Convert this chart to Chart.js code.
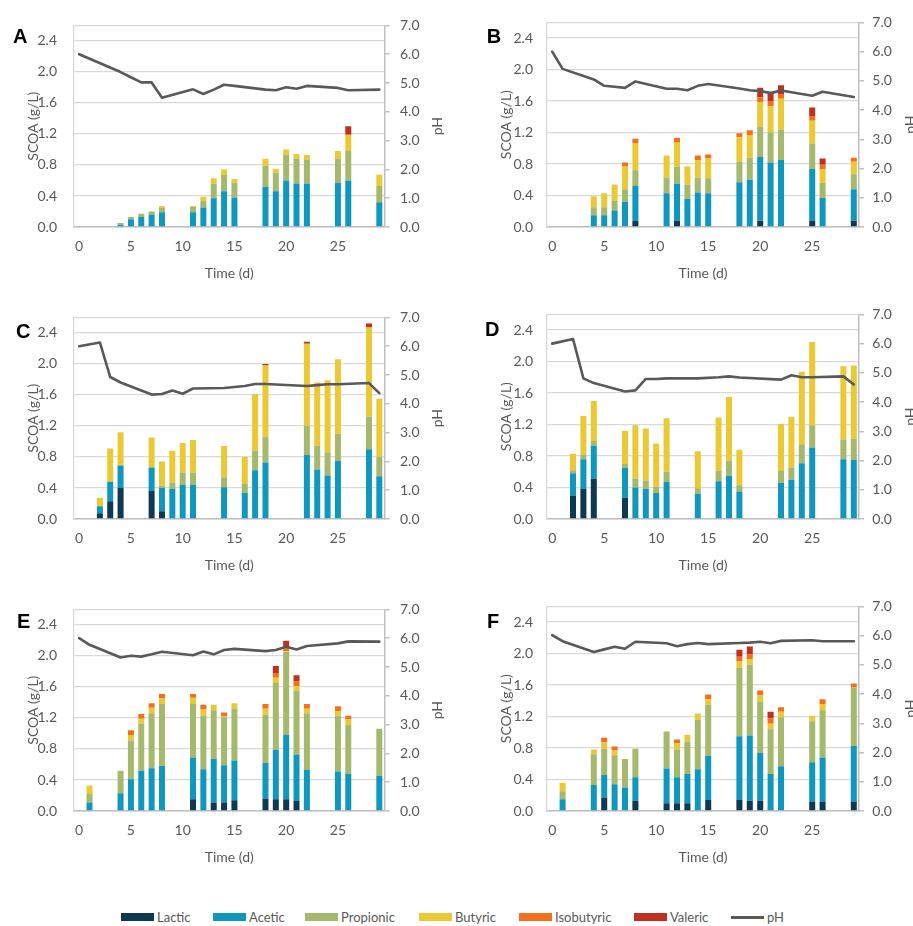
<!DOCTYPE html>
<html>
<head>
<meta charset="utf-8">
<script src="https://cdn.jsdelivr.net/npm/chart.js@4.4.1/dist/chart.umd.min.js"></script>
<style>
html,body{margin:0;padding:0;background:#fff;overflow:hidden;width:913px;height:926px;}
.panel{position:absolute;}
.panel canvas{display:block;}
.lg{position:absolute;top:909px;height:16px;display:flex;align-items:center;font-family:Lato,sans-serif;font-size:13px;color:#595959;white-space:nowrap;}
.sw{width:33px;height:8px;margin-right:3px;}
.ln{width:33px;height:3px;margin-right:3px;background:#595959;}
</style>
</head>
<body>
<div class="panel" style="left:0;top:0"><canvas id="cA" width="455" height="292"></canvas></div>
<div class="panel" style="left:455px;top:0"><canvas id="cB" width="470" height="292"></canvas></div>
<div class="panel" style="left:0;top:292px"><canvas id="cC" width="455" height="292"></canvas></div>
<div class="panel" style="left:455px;top:292px"><canvas id="cD" width="470" height="292"></canvas></div>
<div class="panel" style="left:0;top:584px"><canvas id="cE" width="455" height="292"></canvas></div>
<div class="panel" style="left:455px;top:584px"><canvas id="cF" width="470" height="292"></canvas></div>
<div id="legend"></div>
<script>
// ---------- categories & tick labels ----------
const days = ['0','1','2','3','4','5','6','7','8','9','10','11','12','13','14','15','16','17','18','19','20','21','22','23','24','25','26','27','28','29'];
const xTickLabels = ['0','5','10','15','20','25'];
const scoaTicks = [0, 0.4, 0.8, 1.2, 1.6, 2.0, 2.4, 2.6];
const phTicks = [0, 1, 2, 3, 4, 5, 6, 7];
const seriesNames = ['Lactic','Acetic','Propionic','Butyric','Isobutyric','Valeric'];
const panelLetters = ['A','B','C','D','E','F'];

// ---------- Panel A ----------
const daysA = [4,5,6,7,8,11,12,13,14,15,18,19,20,21,22,25,26,29];
const lacticA = [0,0,0,0,0,0,0,0,0,0,0,0,0,0,0,0,0,0];
const aceticA = [0.03,0.10,0.13,0.16,0.19,0.19,0.25,0.37,0.46,0.38,0.52,0.46,0.60,0.56,0.56,0.57,0.60,0.32];
const propionicA = [0.02,0.03,0.04,0.04,0.06,0.07,0.09,0.19,0.21,0.19,0.27,0.24,0.33,0.32,0.31,0.31,0.38,0.21];
const butyricA = [0,0,0,0,0.02,0.01,0.05,0.07,0.07,0.05,0.09,0.05,0.07,0.06,0.06,0.10,0.21,0.145];
const isobutyricA = [0,0,0,0,0,0,0,0,0,0,0,0,0,0,0,0,0,0];
const valericA = [0,0,0,0,0,0,0,0,0,0,0,0,0,0,0,0,0.11,0];
const phDaysA = [0,4,5,6,7,8,11,12,13,14,15,18,19,20,21,22,25,26,29];
const phA = [6.0,5.38,5.2,5.02,5.02,4.49,4.78,4.62,4.77,4.94,4.9,4.77,4.75,4.85,4.8,4.9,4.83,4.75,4.77];

// ---------- Panel B ----------
const daysB = [4,5,6,7,8,11,12,13,14,15,18,19,20,21,22,25,26,29];
const lacticB = [0,0,0,0,0.08,0,0.08,0,0,0,0,0,0.08,0,0,0.08,0,0.08];
const aceticB = [0.15,0.15,0.21,0.32,0.44,0.43,0.47,0.36,0.44,0.43,0.57,0.60,0.81,0.82,0.85,0.66,0.37,0.40];
const propionicB = [0.10,0.10,0.12,0.16,0.20,0.20,0.22,0.18,0.19,0.19,0.26,0.28,0.38,0.38,0.39,0.32,0.19,0.19];
const butyricB = [0.14,0.18,0.21,0.29,0.34,0.28,0.30,0.23,0.22,0.25,0.31,0.29,0.32,0.33,0.39,0.29,0.17,0.16];
const isobutyricB = [0,0,0,0.05,0.06,0,0.06,0,0.06,0.05,0.05,0.06,0.06,0.07,0.06,0.06,0.06,0.05];
const valericB = [0,0,0,0,0,0,0,0,0,0,0,0,0.12,0.12,0.11,0.11,0.08,0];
const phDaysB = [0,1,4,5,6,7,8,11,12,13,14,15,18,19,20,21,22,25,26,29];
const phB = [6.0,5.41,5.05,4.83,4.8,4.76,4.98,4.73,4.73,4.68,4.83,4.89,4.74,4.68,4.65,4.58,4.67,4.49,4.63,4.45];

// ---------- Panel C ----------
const daysC = [2,3,4,7,8,9,10,11,14,16,17,18,22,23,24,25,28,29];
const lacticC = [0.075,0.23,0.40,0.36,0.10,0,0,0,0,0,0,0,0,0,0,0,0,0];
const aceticC = [0.09,0.25,0.29,0.30,0.30,0.39,0.44,0.44,0.41,0.34,0.63,0.73,0.83,0.64,0.56,0.75,0.90,0.55];
const propionicC = [0,0,0,0.01,0.03,0.08,0.16,0.16,0.13,0.11,0.25,0.33,0.37,0.30,0.30,0.35,0.42,0.25];
const butyricC = [0.11,0.43,0.43,0.38,0.31,0.41,0.38,0.42,0.40,0.35,0.73,0.92,1.06,0.82,0.93,0.96,1.15,0.75];
const isobutyricC = [0,0,0,0,0,0,0,0,0,0,0,0,0,0,0,0,0,0];
const valericC = [0,0,0,0,0,0,0,0,0,0,0,0.02,0.025,0,0,0,0.05,0];
const phDaysC = [0,2,3,4,7,8,9,10,11,14,16,17,18,22,23,24,25,28,29];
const phC = [6.0,6.13,4.93,4.74,4.32,4.34,4.46,4.35,4.53,4.55,4.62,4.69,4.69,4.62,4.65,4.68,4.68,4.72,4.37];

// ---------- Panel D ----------
const daysD = [2,3,4,7,8,9,10,11,14,16,17,18,22,23,24,25,28,29];
const lacticD = [0.30,0.38,0.51,0.27,0,0,0,0,0,0,0,0,0,0,0,0,0,0];
const aceticD = [0.28,0.38,0.42,0.38,0.40,0.38,0.33,0.47,0.32,0.48,0.55,0.35,0.46,0.50,0.71,0.91,0.76,0.75];
const propionicD = [0.04,0.06,0.06,0.05,0.11,0.11,0.08,0.13,0.07,0.13,0.19,0.08,0.15,0.15,0.24,0.28,0.25,0.27];
const butyricD = [0.21,0.49,0.51,0.42,0.68,0.66,0.55,0.68,0.47,0.68,0.81,0.45,0.60,0.65,0.92,1.06,0.93,0.93];
const isobutyricD = [0,0,0,0,0,0,0,0,0,0,0,0,0,0,0,0,0,0];
const valericD = [0,0,0,0,0,0,0,0,0,0,0,0,0,0,0,0,0,0];
const phDaysD = [0,2,3,4,7,8,9,10,11,14,16,17,18,22,23,24,25,28,29];
const phD = [6.0,6.16,4.81,4.65,4.36,4.4,4.79,4.79,4.81,4.81,4.85,4.88,4.84,4.77,4.92,4.85,4.85,4.88,4.6];

// ---------- Panel E ----------
const daysE = [1,4,5,6,7,8,11,12,13,14,15,18,19,20,21,22,25,26,29];
const lacticE = [0,0,0,0,0,0,0.15,0,0.11,0.11,0.14,0.16,0.15,0.15,0.13,0,0,0,0];
const aceticE = [0.11,0.23,0.41,0.52,0.55,0.58,0.54,0.54,0.56,0.48,0.51,0.46,0.64,0.83,0.60,0.53,0.51,0.48,0.45];
const propionicE = [0.11,0.29,0.50,0.61,0.71,0.80,0.69,0.69,0.63,0.62,0.67,0.62,0.86,1.07,0.82,0.73,0.72,0.63,0.61];
const butyricE = [0.11,0,0.07,0.06,0.07,0.07,0.08,0.08,0.07,0.01,0.07,0.08,0.07,0.01,0.06,0.06,0.06,0.07,0];
const isobutyricE = [0,0,0.06,0.06,0.06,0.06,0.05,0.06,0,0.05,0,0.06,0.06,0.035,0.06,0.06,0.06,0.05,0];
const valericE = [0,0,0,0,0,0,0,0,0,0,0,0,0.09,0.10,0.08,0,0,0,0];
const phDaysE = [0,1,4,5,6,7,8,11,12,13,14,15,18,19,20,21,22,25,26,29];
const phE = [6.0,5.77,5.33,5.39,5.36,5.44,5.53,5.41,5.54,5.44,5.59,5.63,5.55,5.59,5.7,5.61,5.73,5.82,5.89,5.88];

// ---------- Panel F ----------
const daysF = [1,4,5,6,7,8,11,12,13,14,15,18,19,20,21,22,25,26,29];
const lacticF = [0,0,0.17,0,0,0.13,0.10,0.10,0.10,0,0.14,0.14,0.13,0.13,0,0,0.12,0.12,0.12];
const aceticF = [0.15,0.33,0.29,0.34,0.30,0.30,0.44,0.33,0.37,0.53,0.56,0.81,0.83,0.61,0.47,0.57,0.50,0.56,0.71];
const propionicF = [0.10,0.39,0.33,0.37,0.36,0.36,0.47,0.35,0.41,0.63,0.65,0.87,0.90,0.65,0.57,0.62,0.52,0.60,0.74];
const butyricF = [0.11,0.06,0.08,0.06,0,0,0,0.08,0.09,0.08,0.07,0.08,0.07,0.08,0.07,0.07,0.07,0.08,0];
const isobutyricF = [0,0,0.06,0.05,0,0,0,0.05,0,0,0.06,0.06,0.06,0.06,0.07,0.06,0,0.06,0.05];
const valericF = [0,0,0,0,0,0,0,0,0,0,0,0.09,0.10,0,0.08,0,0,0,0];
const phDaysF = [0,1,4,5,6,7,8,11,12,13,14,15,18,19,20,21,22,25,26,29];
const phF = [6.02,5.81,5.44,5.53,5.62,5.55,5.79,5.74,5.64,5.71,5.75,5.71,5.75,5.76,5.79,5.74,5.82,5.84,5.81,5.81];

// ---------- styling ----------
const seriesColors = ['#0d3a52','#0f97bd','#a4b96b','#ebc934','#f46f1a','#c0311d'];
const phColor = '#595959';
const textColor = '#595959';
Chart.defaults.font.family = 'Lato, "Open Sans", sans-serif';
Chart.defaults.color = textColor;

const panels = [
  {id:'cA', sets:[lacticA,aceticA,propionicA,butyricA,isobutyricA,valericA], d:daysA, phd:phDaysA, ph:phA},
  {id:'cB', sets:[lacticB,aceticB,propionicB,butyricB,isobutyricB,valericB], d:daysB, phd:phDaysB, ph:phB},
  {id:'cC', sets:[lacticC,aceticC,propionicC,butyricC,isobutyricC,valericC], d:daysC, phd:phDaysC, ph:phC},
  {id:'cD', sets:[lacticD,aceticD,propionicD,butyricD,isobutyricD,valericD], d:daysD, phd:phDaysD, ph:phD},
  {id:'cE', sets:[lacticE,aceticE,propionicE,butyricE,isobutyricE,valericE], d:daysE, phd:phDaysE, ph:phE},
  {id:'cF', sets:[lacticF,aceticF,propionicF,butyricF,isobutyricF,valericF], d:daysF, phd:phDaysF, ph:phF}
];
const leftGeo  = {W:455, padL:20.6, areaL:74, areaR:384.5, padR:5.6, yPad:17, y1Pad:10.5};
const rightGeo = {W:470, padL:38.6, areaL:92, areaR:404, padR:2.6, yPad:14, y1Pad:8.3};
const letterPos = [[13,43],[31.7,43],[16,46],[30,44],[17,44],[32,44]];

function place(dayList, vals) {
  const out = days.map(() => null);
  dayList.forEach((d, i) => { out[d] = vals[i] === 0 ? null : vals[i]; });
  return out;
}

// Panel letter plus a right-axis title rotated like the reference (reading bottom-to-top)
const panelDecor = {
  id: 'panelDecor',
  afterDraw(chart, args, opts) {
    const ctx = chart.ctx;
    ctx.save();
    ctx.font = 'bold 20px "Liberation Sans", Arial, sans-serif';
    ctx.fillStyle = '#000';
    ctx.textBaseline = 'alphabetic';
    ctx.textAlign = 'left';
    ctx.fillText(opts.text, opts.x, opts.y);
    ctx.restore();

    const s = chart.scales.y1;
    const ca = chart.chartArea;
    ctx.save();
    ctx.font = '14px Lato, "Open Sans", sans-serif';
    ctx.fillStyle = textColor;
    ctx.textAlign = 'center';
    ctx.textBaseline = 'middle';
    ctx.translate(s.right - 12.4, (ca.top + ca.bottom) / 2);
    ctx.rotate(-Math.PI / 2);
    ctx.fillText(opts.rightTitle, 0, 0);
    ctx.restore();
  }
};

panels.forEach((p, idx) => {
  const g = idx % 2 === 0 ? leftGeo : rightGeo;
  const datasets = seriesNames.map((name, k) => ({
    type: 'bar',
    label: name,
    data: place(p.d, p.sets[k]),
    backgroundColor: seriesColors[k],
    borderWidth: 0,
    yAxisID: 'y',
    stack: 'acids',
    order: 2,
    barPercentage: 0.58,
    categoryPercentage: 1.0
  }));
  datasets.push({
    type: 'line',
    label: 'pH',
    data: place(p.phd, p.ph),
    yAxisID: 'y1',
    borderColor: phColor,
    backgroundColor: phColor,
    borderWidth: 2.6,
    pointRadius: 0,
    tension: 0,
    spanGaps: true,
    borderJoinStyle: 'round',
    borderCapStyle: 'round',
    order: 0
  });
  new Chart(document.getElementById(p.id), {
    type: 'bar',
    data: { labels: days, datasets },
    plugins: [panelDecor],
    options: {
      responsive: false,
      animation: false,
      layout: { padding: { left: g.padL, right: g.padR, top: 18, bottom: 0 } },
      plugins: {
        legend: { display: false },
        tooltip: { enabled: false },
        panelDecor: { text: panelLetters[idx], x: letterPos[idx][0], y: letterPos[idx][1], rightTitle: 'pH' }
      },
      scales: {
        x: {
          type: 'category',
          stacked: true,
          grid: { display: false, drawTicks: false, tickLength: 0 },
          border: { display: true, color: '#bfbfbf', width: 1.5 },
          ticks: {
            autoSkip: false, maxRotation: 0, minRotation: 0, padding: 11,
            font: { size: 14 }, color: textColor,
            callback: function(v) { const l = this.getLabelForValue(v); return xTickLabels.includes(l) ? l : ''; }
          },
          title: { display: true, text: 'Time (d)', font: { size: 14 }, color: textColor, padding: { top: 4, bottom: 10.6 } },
          afterFit: s => { s.height = 65; }
        },
        y: {
          position: 'left',
          stacked: true,
          min: 0, max: 2.6,
          afterBuildTicks: s => { s.ticks = scoaTicks.map(v => ({ value: v })); },
          grid: { color: '#d9d9d9', lineWidth: 1.3, drawTicks: false, tickLength: 0 },
          border: { display: true, color: '#d9d9d9', width: 1.3 },
          ticks: {
            padding: g.yPad, font: { size: 14 }, color: textColor,
            callback: v => (Math.abs(v - 2.6) < 1e-6 ? '' : v.toFixed(1))
          },
          title: { display: true, text: 'SCOA (g/L)', font: { size: 14 }, color: textColor, padding: { top: 4, bottom: 4 } },
          afterFit: s => { s.width = g.areaL - g.padL; }
        },
        y1: {
          position: 'right',
          stacked: false,
          min: 0, max: 7,
          afterBuildTicks: s => { s.ticks = phTicks.map(v => ({ value: v })); },
          grid: { drawOnChartArea: false, drawTicks: true, tickLength: 5, color: '#bfbfbf', lineWidth: 1.5 },
          border: { display: true, color: '#bfbfbf', width: 1.5 },
          ticks: { padding: g.y1Pad, font: { size: 14 }, color: textColor, callback: v => v.toFixed(1) },
          title: { display: false, text: 'pH' },
          afterFit: s => { s.width = g.W - g.padR - g.areaR; }
        }
      }
    }
  });
});

// ---------- shared legend ----------
const legendX = [121, 213, 305, 419, 519, 634, 731];
const legend = document.getElementById('legend');
seriesNames.concat(['pH']).forEach((name, i) => {
  const item = document.createElement('div');
  item.className = 'lg';
  item.style.left = legendX[i] + 'px';
  const mark = document.createElement('span');
  if (i < seriesNames.length) { mark.className = 'sw'; mark.style.background = seriesColors[i]; }
  else { mark.className = 'ln'; }
  item.appendChild(mark);
  item.appendChild(document.createTextNode(name));
  legend.appendChild(item);
});
</script>
</body>
</html>
